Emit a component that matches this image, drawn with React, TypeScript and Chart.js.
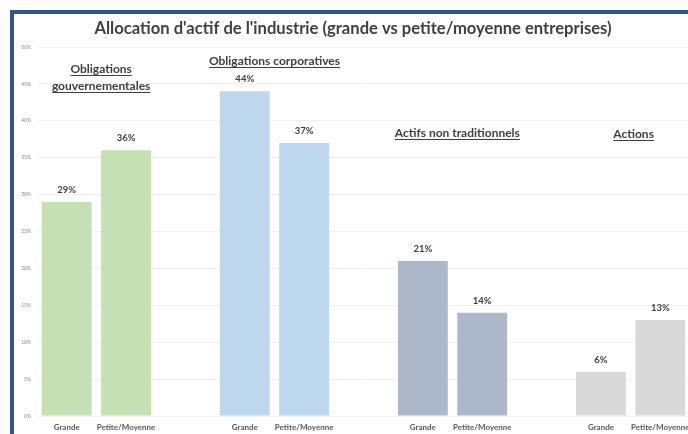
import React, { useEffect, useRef } from "react";
import { Chart, registerables } from "chart.js";

Chart.register(...registerables);

const chartTitle = "Allocation d'actif de l'industrie (grande vs petite/moyenne entreprises)";
const categories = [
  "Grande", "Petite/Moyenne", "",
  "Grande", "Petite/Moyenne", "",
  "Grande", "Petite/Moyenne", "",
  "Grande", "Petite/Moyenne",
];
const values: (number | null)[] = [29, 36, null, 44, 37, null, 21, 14, null, 6, 13];
const barColors = [
  "#C5E0B4", "#C5E0B4", "rgba(0,0,0,0)",
  "#BDD7EE", "#BDD7EE", "rgba(0,0,0,0)",
  "#ADB9CA", "#ADB9CA", "rgba(0,0,0,0)",
  "#D9D9D9", "#D9D9D9",
];
const groupTitles: string[][] = [
  ["Obligations", "gouvernementales"],
  ["Obligations corporatives"],
  ["Actifs non traditionnels"],
  ["Actions"],
];
const yMin = 0;
const yMax = 50;
const yStep = 5;

// placement of the group headings (category index, value in %)
const groupAnchors = [
  { x: 0.58, y: 47.0, lineGap: 2.25 },
  { x: 3.5, y: 48.1, lineGap: 2.25 },
  { x: 6.58, y: 38.3, lineGap: 2.25 },
  { x: 9.55, y: 38.2, lineGap: 2.25 },
];

const textColor = "#404040";

const annotationPlugin = {
  id: "annotations",
  afterDatasetsDraw(chart: any) {
    const ctx = chart.ctx as CanvasRenderingContext2D;
    const xs = chart.scales.x;
    const ys = chart.scales.y;
    ctx.save();
    // title
    ctx.fillStyle = textColor;
    ctx.font = "bold 16.6px Lato";
    ctx.textAlign = "center";
    ctx.textBaseline = "middle";
    ctx.fillText(chartTitle, 353, 29);

    // value labels
    ctx.font = "bold 9.5px Lato";
    const meta = chart.getDatasetMeta(0);
    values.forEach((v, i) => {
      if (v == null) return;
      const bar = meta.data[i];
      ctx.fillText(v + "%", bar.x, bar.y - 12);
    });

    // group headings, underlined
    ctx.font = "bold 12px Lato";
    ctx.strokeStyle = textColor;
    ctx.lineWidth = 1;
    groupTitles.forEach((lines, gi) => {
      const a = groupAnchors[gi];
      const cx = xs.getPixelForValue(a.x);
      lines.forEach((line, li) => {
        const cy = ys.getPixelForValue(a.y - li * a.lineGap);
        ctx.fillText(line, cx, cy);
        const w = ctx.measureText(line).width;
        const uy = Math.round(cy + 6) + 0.5;
        ctx.beginPath();
        ctx.moveTo(cx - w / 2, uy);
        ctx.lineTo(cx + w / 2, uy);
        ctx.stroke();
      });
    });
    ctx.restore();
  },
};

export default function App() {
  const ref = useRef<HTMLCanvasElement | null>(null);
  useEffect(() => {
    if (!ref.current) return;
    const chart = new Chart(ref.current, {
      type: "bar",
      data: {
        labels: categories,
        datasets: [
          {
            data: values as any,
            backgroundColor: barColors,
            barPercentage: 0.84,
            categoryPercentage: 1,
          },
        ],
      },
      options: {
        responsive: false,
        animation: false,
        devicePixelRatio: 1,
        layout: { padding: { top: 47, right: 10, left: 0, bottom: 0 } },
        plugins: {
          legend: { display: false },
          title: { display: false },
          tooltip: { enabled: false },
        },
        scales: {
          x: {
            grid: { display: false, drawTicks: false },
            border: { display: false },
            ticks: {
              font: { family: "Lato", size: 8, weight: "bold" },
              color: "#595959",
              padding: 7,
              maxRotation: 0,
              autoSkip: false,
            },
            afterFit: (s: any) => {
              s.height = 18;
            },
          },
          y: {
            min: yMin,
            max: yMax,
            grid: { color: "#F0F0F0", drawTicks: false },
            border: { display: false },
            ticks: {
              stepSize: yStep,
              font: { family: "Lato", size: 5 },
              color: "#8C8C8C",
              padding: 6,
              callback: (v: any) => v + "%",
            },
            afterFit: (s: any) => {
              s.width = 37;
            },
          },
        },
      },
      plugins: [annotationPlugin],
    });
    return () => chart.destroy();
  }, []);

  return (
    <div
      style={{
        position: "fixed",
        left: 0,
        top: 0,
        width: 688,
        height: 434,
        overflow: "hidden",
        background: "#ffffff",
      }}
    >
      <canvas
        ref={ref}
        width={700}
        height={434}
        style={{ position: "absolute", left: 0, top: 0, width: 700, height: 434 }}
      />
      <div
        style={{
          position: "absolute",
          left: 10,
          top: 10,
          width: 720,
          height: 460,
          borderLeft: "4px solid #2F5597",
          borderTop: "4px solid #2F5597",
          pointerEvents: "none",
        }}
      />
    </div>
  );
}
